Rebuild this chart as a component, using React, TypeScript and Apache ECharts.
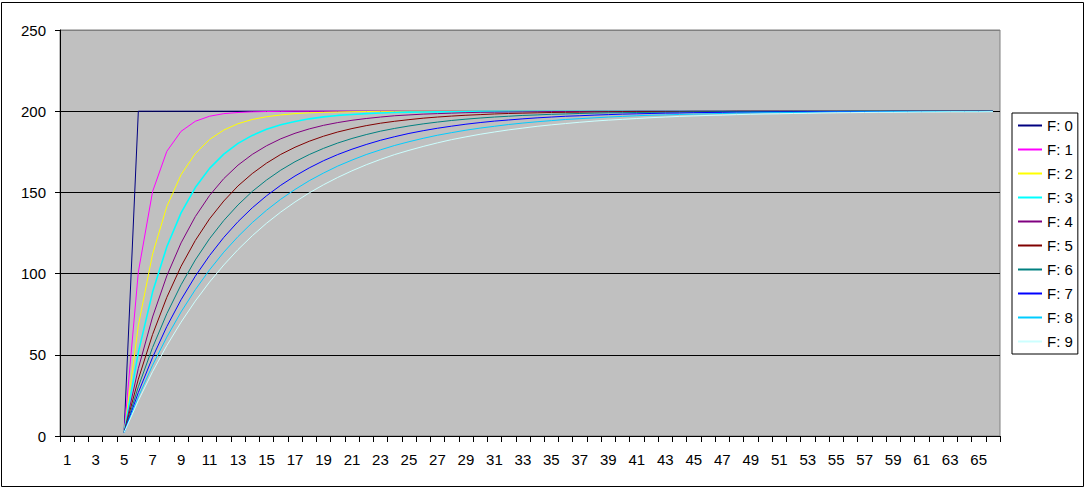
import React, { useEffect, useRef } from "react";
import * as echarts from "echarts";

const categories: string[] = [
  "1","2","3","4","5","6","7","8","9","10","11","12","13","14","15","16","17","18","19","20",
  "21","22","23","24","25","26","27","28","29","30","31","32","33","34","35","36","37","38","39","40",
  "41","42","43","44","45","46","47","48","49","50","51","52","53","54","55","56","57","58","59","60",
  "61","62","63","64","65","66",
];

const lead = [null, null, null, null];

const f0 = [2, 200, 200, 200, 200, 200, 200, 200, 200, 200, 200, 200, 200, 200, 200, 200, 200, 200, 200, 200,
  200, 200, 200, 200, 200, 200, 200, 200, 200, 200, 200, 200, 200, 200, 200, 200, 200, 200, 200, 200,
  200, 200, 200, 200, 200, 200, 200, 200, 200, 200, 200, 200, 200, 200, 200, 200, 200, 200, 200, 200, 200, 200];
const f1 = [2, 101, 150.5, 175.3, 187.6, 193.8, 196.9, 198.5, 199.2, 199.6, 199.8, 199.9, 200, 200, 200, 200, 200, 200, 200, 200,
  200, 200, 200, 200, 200, 200, 200, 200, 200, 200, 200, 200, 200, 200, 200, 200, 200, 200, 200, 200,
  200, 200, 200, 200, 200, 200, 200, 200, 200, 200, 200, 200, 200, 200, 200, 200, 200, 200, 200, 200, 200, 200];
const f2 = [2, 68, 112, 141.3, 160.9, 173.9, 182.6, 188.4, 192.3, 194.9, 196.6, 197.7, 198.5, 199, 199.3, 199.5, 199.7, 199.8, 199.9, 199.9,
  200, 200, 200, 200, 200, 200, 200, 200, 200, 200, 200, 200, 200, 200, 200, 200, 200, 200, 200, 200,
  200, 200, 200, 200, 200, 200, 200, 200, 200, 200, 200, 200, 200, 200, 200, 200, 200, 200, 200, 200, 200, 200];
const f3 = [2, 51.5, 88.6, 116.5, 137.4, 153, 164.8, 173.6, 180.2, 185.1, 188.9, 191.6, 193.7, 195.3, 196.5, 197.4, 198, 198.5, 198.9, 199.2,
  199.4, 199.5, 199.6, 199.7, 199.8, 199.9, 199.9, 199.9, 200, 200, 200, 200, 200, 200, 200, 200, 200, 200, 200, 200,
  200, 200, 200, 200, 200, 200, 200, 200, 200, 200, 200, 200, 200, 200, 200, 200, 200, 200, 200, 200, 200, 200];
const f4 = [2, 41.6, 73.3, 98.6, 118.9, 135.1, 148.1, 158.5, 166.8, 173.4, 178.7, 183, 186.4, 189.1, 191.3, 193, 194.4, 195.5, 196.4, 197.2,
  197.7, 198.2, 198.5, 198.8, 199.1, 199.3, 199.4, 199.5, 199.6, 199.7, 199.8, 199.8, 199.8, 199.9, 199.9, 199.9, 200, 200, 200, 200,
  200, 200, 200, 200, 200, 200, 200, 200, 200, 200, 200, 200, 200, 200, 200, 200, 200, 200, 200, 200, 200, 200];
const f5 = [2, 35, 62.5, 85.4, 104.5, 120.4, 133.7, 144.7, 154, 161.6, 168, 173.4, 177.8, 181.5, 184.6, 187.2, 189.3, 191.1, 192.6, 193.8,
  194.8, 195.7, 196.4, 197, 197.5, 197.9, 198.3, 198.6, 198.8, 199, 199.2, 199.3, 199.4, 199.5, 199.6, 199.7, 199.7, 199.8, 199.8, 199.8,
  199.9, 199.9, 199.9, 200, 200, 200, 200, 200, 200, 200, 200, 200, 200, 200, 200, 200, 200, 200, 200, 200, 200, 200];
const f6 = [2, 30.3, 54.5, 75.3, 93.1, 108.4, 121.5, 132.7, 142.3, 150.6, 157.6, 163.7, 168.9, 173.3, 177.1, 180.4, 183.2, 185.6, 187.7, 189.4,
  190.9, 192.2, 193.3, 194.3, 195.1, 195.8, 196.4, 196.9, 197.4, 197.7, 198.1, 198.3, 198.6, 198.8, 199, 199.1, 199.2, 199.3, 199.4, 199.5,
  199.6, 199.6, 199.7, 199.7, 199.8, 199.8, 199.8, 199.9, 199.9, 199.9, 199.9, 200, 200, 200, 200, 200, 200, 200, 200, 200, 200, 200];
const f7 = [2, 26.8, 48.4, 67.4, 83.9, 98.4, 111.1, 122.3, 132, 140.5, 147.9, 154.4, 160.1, 165.1, 169.5, 173.3, 176.6, 179.5, 182.1, 184.3,
  186.3, 188, 189.5, 190.8, 192, 193, 193.9, 194.6, 195.3, 195.9, 196.4, 196.9, 197.2, 197.6, 197.9, 198.2, 198.4, 198.6, 198.8, 198.9,
  199.1, 199.2, 199.3, 199.4, 199.4, 199.5, 199.6, 199.6, 199.7, 199.7, 199.8, 199.8, 199.8, 199.8, 199.9, 199.9, 199.9, 199.9, 199.9, 199.9, 199.9, 199.9];
const f8 = [2, 24, 43.6, 60.9, 76.4, 90.1, 102.3, 113.2, 122.8, 131.4, 139, 145.8, 151.8, 157.2, 161.9, 166.2, 169.9, 173.3, 176.2, 178.9,
  181.2, 183.3, 185.2, 186.8, 188.3, 189.6, 190.7, 191.8, 192.7, 193.5, 194.2, 194.9, 195.4, 195.9, 196.4, 196.8, 197.2, 197.5, 197.7, 198,
  198.2, 198.4, 198.6, 198.8, 198.9, 199, 199.1, 199.2, 199.3, 199.4, 199.5, 199.5, 199.6, 199.6, 199.7, 199.7, 199.7, 199.8, 199.8, 199.8, 199.8, 199.9];
const f9 = [2, 21.8, 39.6, 55.7, 70.1, 83.1, 94.8, 105.3, 114.8, 123.3, 131, 137.9, 144.1, 149.7, 154.7, 159.2, 163.3, 167, 170.3, 173.3,
  175.9, 178.3, 180.5, 182.5, 184.2, 185.8, 187.2, 188.5, 189.6, 190.7, 191.6, 192.4, 193.2, 193.9, 194.5, 195, 195.5, 196, 196.4, 196.8,
  197.1, 197.4, 197.6, 197.9, 198.1, 198.3, 198.4, 198.6, 198.7, 198.9, 199, 199.1, 199.2, 199.3, 199.3, 199.4, 199.5, 199.5, 199.6, 199.6, 199.6, 199.7];

const seriesNames = ["F: 0", "F: 1", "F: 2", "F: 3", "F: 4", "F: 5", "F: 6", "F: 7", "F: 8", "F: 9"];
const seriesValues = [f0, f1, f2, f3, f4, f5, f6, f7, f8, f9];
const seriesColors = ["#000080", "#FF00FF", "#FFFF00", "#00FFFF", "#800080", "#800000", "#008080", "#0000FF", "#00CCFF", "#CCFFFF"];
const seriesWidths = [1, 1, 1, 1.6, 1, 1, 1, 1, 1, 1];

const FONT = 'Arial, "Liberation Sans", sans-serif';

export default function App() {
  const ref = useRef<HTMLDivElement>(null);
  useEffect(() => {
    document.body.style.margin = "0";
    const chart = echarts.init(ref.current!, null, { renderer: "svg" });
    chart.setOption({
      animation: false,
      backgroundColor: "#FFFFFF",
      textStyle: { fontFamily: FONT },
      graphic: [
        {
          type: "rect",
          shape: { x: 1.5, y: 2.5, width: 1082, height: 484 },
          style: { fill: "none", stroke: "#000000", lineWidth: 1 },
          silent: true,
        },
      ],
      grid: {
        left: 60,
        right: 89,
        top: 30,
        bottom: 53,
        show: true,
        backgroundColor: "#C0C0C0",
        borderColor: "#808080",
        borderWidth: 1,
      },
      legend: {
        orient: "vertical",
        left: 1012,
        top: 113,
        padding: [5, 5, 5, 5],
        itemWidth: 24,
        itemHeight: 14,
        itemGap: 9,
        backgroundColor: "#FFFFFF",
        borderColor: "#000000",
        borderWidth: 1,
        borderRadius: 0,
        itemStyle: { color: "rgba(0,0,0,0)", borderWidth: 0 },
        textStyle: { fontFamily: FONT, fontSize: 15, color: "#000000" },
        data: seriesNames,
      },
      xAxis: {
        type: "category",
        data: categories,
        boundaryGap: true,
        axisLine: { show: true, lineStyle: { color: "#000000", width: 1 } },
        axisTick: { show: true, interval: 0, length: 6, lineStyle: { color: "#000000" } },
        axisLabel: { interval: 1, margin: 16, fontSize: 15, color: "#000000", fontFamily: FONT },
        splitLine: { show: false },
      },
      yAxis: {
        type: "value",
        min: 0,
        max: 250,
        interval: 50,
        axisLine: { show: true, lineStyle: { color: "#000000", width: 1 } },
        axisTick: { show: true, length: 5, lineStyle: { color: "#000000" } },
        axisLabel: { margin: 14, fontSize: 15, color: "#000000", fontFamily: FONT },
        splitLine: {
          show: true,
          lineStyle: { color: ["#000000", "#000000", "#000000", "#000000", "#000000", "#808080"], width: 1 },
        },
      },
      series: seriesNames.map((name, i) => ({
        name,
        type: "line",
        data: [...lead, ...seriesValues[i]],
        symbol: "none",
        showSymbol: false,
        connectNulls: false,
        color: seriesColors[i],
        lineStyle: { color: seriesColors[i], width: seriesWidths[i] },
        emphasis: { disabled: true },
      })),
    });
    return () => chart.dispose();
  }, []);
  return <div ref={ref} style={{ width: 1089, height: 489, position: "absolute", left: 0, top: 0 }} />;
}
